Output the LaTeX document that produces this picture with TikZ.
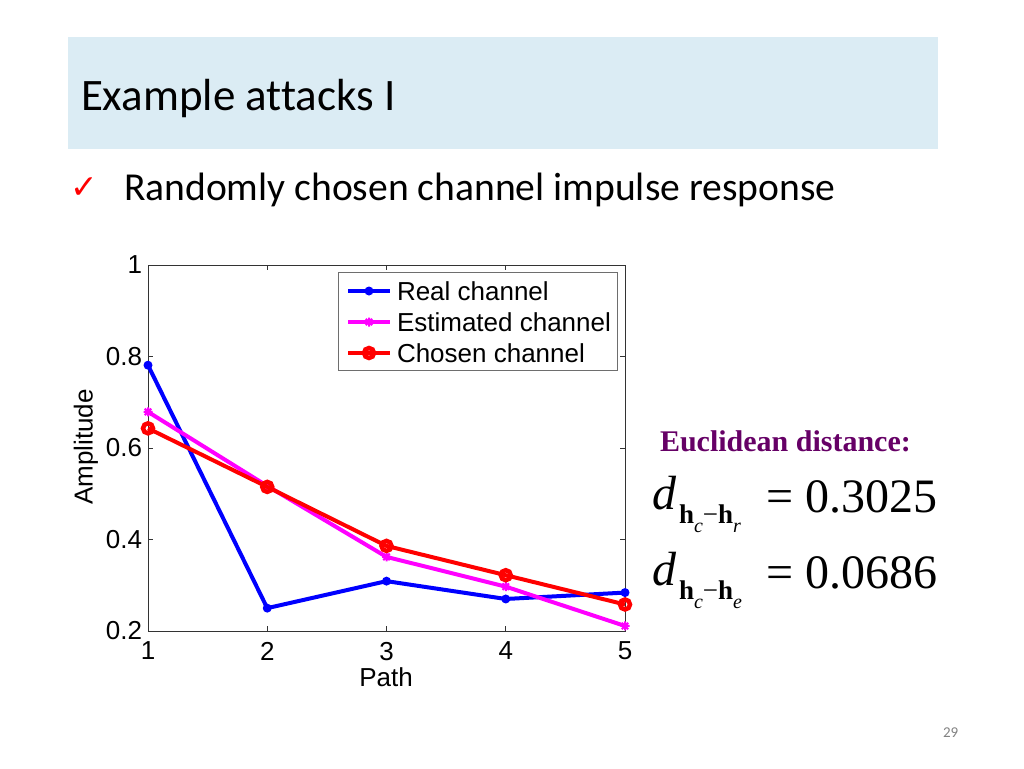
\documentclass[tikz,border=0pt]{standalone}
\usepackage{fontspec}
\setmainfont{Carlito}[Ligatures=NoCommon]
\newfontfamily\plotfont{Liberation Sans}
\newfontfamily\eqfont{Liberation Serif}
\newfontfamily\symfont{DejaVu Sans}
\usetikzlibrary{positioning}
\definecolor{titlebg}{RGB}{219,236,244}
\definecolor{euclid}{RGB}{102,0,102}
\definecolor{legframe}{RGB}{110,110,110}
\definecolor{pagegray}{RGB}{130,130,130}
\definecolor{realblue}{RGB}{0,0,255}
\definecolor{estmagenta}{RGB}{255,0,255}
\definecolor{chosenred}{RGB}{255,0,0}

\begin{document}
\begin{tikzpicture}[x=1pt,y=-1pt,inner sep=0pt,outer sep=0pt,
plottext/.style={font=\plotfont\fontsize{26}{26}\selectfont},
realline/.style={draw=realblue,line width=4pt,line join=round},
estline/.style={draw=estmagenta,line width=4pt,line join=round},
chosenline/.style={draw=chosenred,line width=4pt,line join=round},
realmark/.style={fill=realblue},
chosenmark/.style={draw=chosenred,line width=4.5pt},
estmark/.style={draw=estmagenta,line width=2pt},
eqbig/.style={font=\eqfont\fontsize{48}{48}\selectfont},
eqsub/.style={font=\eqfont\fontsize{27}{27}\selectfont}]

\useasboundingbox (0,0) rectangle (1024,768);
\fill[titlebg] (68,37) rectangle (938,149);
\draw (81,110) node[anchor=base west,font=\fontsize{45}{45}\selectfont] (title) {Example attacks I};
\draw (70,198) node[anchor=base west,text=chosenred,font=\symfont\fontsize{33}{33}\selectfont] (check) {✓};
\draw (124,200) node[anchor=base west,font=\fontsize{39.6}{39.6}\selectfont] (bullet) {Randomly chosen channel impulse response};

\begin{scope}[shift={(28.75,722.5)},x=119.25pt,y=457.5pt]
\draw[black!80,line width=1pt] (1,0.2) rectangle (5,1);
\foreach \i in {1,...,5} {
  \draw[black!80,line width=1pt] (\i,0.2) -- +(0pt,5pt) (\i,1) -- +(0pt,-5pt);
  \draw (\i,0.2) node[plottext,below=11pt] {\i};
}
\foreach \v in {0.2,0.4,0.6,0.8,1} {
  \draw[black!80,line width=1pt] (1,\v) -- +(5pt,0pt) (5,\v) -- +(-5pt,0pt);
  \draw (1,\v) node[plottext,left=6pt] {\v};
}
\draw[realline] (1,0.781) -- (2,0.25) -- (3,0.309) -- (4,0.27) -- (5,0.284);
\foreach \x/\v in {1/0.781,2/0.25,3/0.309,4/0.27,5/0.284}
  \fill[realmark] (\x,\v) circle (4.5pt);
\draw[estline] (1,0.679) -- (2,0.517) -- (3,0.362) -- (4,0.297) -- (5,0.211);
\foreach \x/\v in {1/0.679,2/0.517,3/0.362,4/0.297,5/0.211}
  \draw[estmark] (\x,\v) +(-4.5pt,0pt) -- +(4.5pt,0pt) +(0pt,-4.5pt) -- +(0pt,4.5pt)
    +(-3.2pt,-3.2pt) -- +(3.2pt,3.2pt) +(-3.2pt,3.2pt) -- +(3.2pt,-3.2pt);
\draw[chosenline] (1,0.643) -- (2,0.515) -- (3,0.386) -- (4,0.322) -- (5,0.258);
\foreach \x/\v in {1/0.643,2/0.515,3/0.386,4/0.322,5/0.258}
  \draw[chosenmark] (\x,\v) circle (5pt);
\end{scope}

\draw (386,677) node[plottext] (xlab) {Path};
\draw (86,447) node[plottext,rotate=90] (ylab) {Amplitude};

\draw[legframe,fill=white,line width=1pt] (338,272) rectangle (617,370);
\draw (397,291) node[plottext,anchor=west] (legreal) {Real channel};
\draw (397,322) node[plottext,anchor=west] (legest) {Estimated channel};
\draw (397,353) node[plottext,anchor=west] (legchosen) {Chosen channel};
\draw[realline] (348,291) -- (390,291);
\fill[realmark] (369,291) circle (4.5pt);
\draw[estline] (348,322) -- (390,322);
\draw[estmark] (369,322) +(-4.5pt,0pt) -- +(4.5pt,0pt) +(0pt,-4.5pt) -- +(0pt,4.5pt)
  +(-3.2pt,-3.2pt) -- +(3.2pt,3.2pt) +(-3.2pt,3.2pt) -- +(3.2pt,-3.2pt);
\draw[chosenline] (348,353) -- (390,353);
\draw[chosenmark] (369,353) circle (5pt);

\draw (660,451) node[anchor=base west,text=euclid,font=\eqfont\bfseries\fontsize{30}{30}\selectfont] (euclid) {Euclidean distance:};

\draw (652,509) node[eqbig,anchor=base west] (dr) {\itshape d};
\draw (679,523) node[eqsub,anchor=base west] (subr) {\textbf{h}\raisebox{-9pt}{\fontsize{20}{20}\selectfont\itshape c}−\textbf{h}\raisebox{-9pt}{\fontsize{20}{20}\selectfont\itshape r}};
\draw (766,512) node[eqbig,anchor=base west] (valr) {= 0.3025};

\draw (652,585) node[eqbig,anchor=base west] (de) {\itshape d};
\draw (679,599) node[eqsub,anchor=base west] (sube) {\textbf{h}\raisebox{-9pt}{\fontsize{20}{20}\selectfont\itshape c}−\textbf{h}\raisebox{-9pt}{\fontsize{20}{20}\selectfont\itshape e}};
\draw (766,588) node[eqbig,anchor=base west] (vale) {= 0.0686};

\draw (943,737) node[anchor=base west,text=pagegray,font=\fontsize{15}{15}\selectfont] (page) {29};
\end{tikzpicture}
\end{document}
